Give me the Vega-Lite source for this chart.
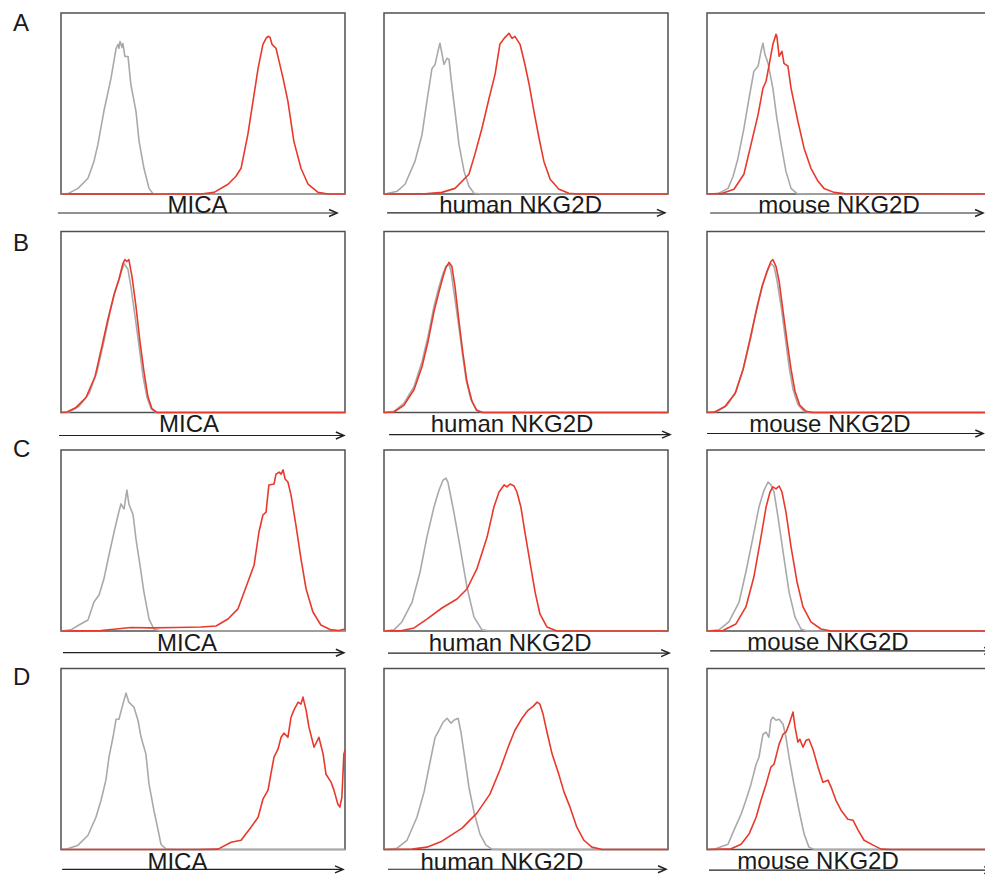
{
"$schema": "https://vega.github.io/schema/vega-lite/v6.json",
"background": "white",
"padding": {"left": 12, "top": 11, "right": 0, "bottom": 0},
"autosize": {"type": "pad"},
"config": {"view": {"stroke": "#505050", "strokeWidth": 1.5}, "font": "Liberation Sans", "axis": {"disable": true}},
"columns": 3,
"spacing": {"row": 37.5, "column": 39},
"bounds": "flush",
"data": {"values": [
{"p":"A1","s":"n","x":0,"y":0},{"p":"A1","s":"n","x":2.5,"y":0.2},{"p":"A1","s":"n","x":6,"y":3.1},{"p":"A1","s":"n","x":9.5,"y":8.7},{"p":"A1","s":"n","x":11.6,"y":18},{"p":"A1","s":"n","x":13,"y":27.4},{"p":"A1","s":"n","x":15.1,"y":45.7},{"p":"A1","s":"n","x":17.6,"y":63.9},{"p":"A1","s":"n","x":19.4,"y":80.5},{"p":"A1","s":"n","x":20.1,"y":82.7},{"p":"A1","s":"n","x":20.4,"y":80.5},{"p":"A1","s":"n","x":20.8,"y":84.3},{"p":"A1","s":"n","x":21.5,"y":81},{"p":"A1","s":"n","x":21.8,"y":83.1},{"p":"A1","s":"n","x":22.5,"y":76},{"p":"A1","s":"n","x":23.6,"y":76},{"p":"A1","s":"n","x":24.6,"y":60.6},{"p":"A1","s":"n","x":26.4,"y":45.7},{"p":"A1","s":"n","x":27.5,"y":29.1},{"p":"A1","s":"n","x":29.2,"y":14.2},{"p":"A1","s":"n","x":31,"y":3.1},{"p":"A1","s":"n","x":32.4,"y":0.2},{"p":"A1","s":"n","x":35.2,"y":0},{"p":"A1","s":"n","x":100,"y":0},
{"p":"A1","s":"r","x":0,"y":0},{"p":"A1","s":"r","x":49.3,"y":0},{"p":"A1","s":"r","x":53.9,"y":0.9},{"p":"A1","s":"r","x":58.8,"y":5.4},{"p":"A1","s":"r","x":61.6,"y":9.8},{"p":"A1","s":"r","x":63.4,"y":14.2},{"p":"A1","s":"r","x":65.8,"y":32.9},{"p":"A1","s":"r","x":67.6,"y":51.2},{"p":"A1","s":"r","x":69.4,"y":69.4},{"p":"A1","s":"r","x":71.1,"y":82.7},{"p":"A1","s":"r","x":72.2,"y":86},{"p":"A1","s":"r","x":72.9,"y":87.1},{"p":"A1","s":"r","x":73.6,"y":86.6},{"p":"A1","s":"r","x":74.3,"y":82.7},{"p":"A1","s":"r","x":75.7,"y":80.5},{"p":"A1","s":"r","x":76.8,"y":73.3},{"p":"A1","s":"r","x":78.2,"y":63.9},{"p":"A1","s":"r","x":79.9,"y":51.2},{"p":"A1","s":"r","x":82,"y":29.1},{"p":"A1","s":"r","x":84.5,"y":14.2},{"p":"A1","s":"r","x":87,"y":5.4},{"p":"A1","s":"r","x":90.5,"y":0.9},{"p":"A1","s":"r","x":94,"y":0},{"p":"A1","s":"r","x":100,"y":0},
{"p":"A2","s":"n","x":0,"y":0},{"p":"A2","s":"n","x":1.1,"y":0.2},{"p":"A2","s":"n","x":4.6,"y":1.5},{"p":"A2","s":"n","x":7.4,"y":5.4},{"p":"A2","s":"n","x":10.9,"y":18},{"p":"A2","s":"n","x":13.4,"y":32.9},{"p":"A2","s":"n","x":15.1,"y":51.2},{"p":"A2","s":"n","x":16.9,"y":69.4},{"p":"A2","s":"n","x":18,"y":71.6},{"p":"A2","s":"n","x":19,"y":78.8},{"p":"A2","s":"n","x":19.7,"y":83.3},{"p":"A2","s":"n","x":20.4,"y":77.7},{"p":"A2","s":"n","x":21.1,"y":71.6},{"p":"A2","s":"n","x":22.2,"y":75},{"p":"A2","s":"n","x":22.9,"y":74.4},{"p":"A2","s":"n","x":23.6,"y":63.9},{"p":"A2","s":"n","x":25,"y":45.7},{"p":"A2","s":"n","x":26.4,"y":27.4},{"p":"A2","s":"n","x":28.2,"y":12.5},{"p":"A2","s":"n","x":29.9,"y":4.3},{"p":"A2","s":"n","x":31.7,"y":0.4},{"p":"A2","s":"n","x":34.5,"y":0},{"p":"A2","s":"n","x":100,"y":0},
{"p":"A2","s":"r","x":0,"y":0},{"p":"A2","s":"r","x":14.4,"y":0.1},{"p":"A2","s":"r","x":20.4,"y":0.9},{"p":"A2","s":"r","x":25,"y":3.1},{"p":"A2","s":"r","x":29.9,"y":10.9},{"p":"A2","s":"r","x":32,"y":21.9},{"p":"A2","s":"r","x":34.5,"y":36.3},{"p":"A2","s":"r","x":37,"y":52.9},{"p":"A2","s":"r","x":39.1,"y":66.1},{"p":"A2","s":"r","x":40.8,"y":82.7},{"p":"A2","s":"r","x":42.3,"y":86},{"p":"A2","s":"r","x":44,"y":88.8},{"p":"A2","s":"r","x":45.1,"y":86},{"p":"A2","s":"r","x":46.1,"y":87.1},{"p":"A2","s":"r","x":47.9,"y":82.7},{"p":"A2","s":"r","x":49.6,"y":71.7},{"p":"A2","s":"r","x":51.1,"y":60.6},{"p":"A2","s":"r","x":52.8,"y":45.7},{"p":"A2","s":"r","x":54.6,"y":30.8},{"p":"A2","s":"r","x":56.3,"y":18},{"p":"A2","s":"r","x":58.5,"y":8.1},{"p":"A2","s":"r","x":61.6,"y":2.6},{"p":"A2","s":"r","x":65.1,"y":0.4},{"p":"A2","s":"r","x":68,"y":0},{"p":"A2","s":"r","x":100,"y":0},
{"p":"A3","s":"n","x":0,"y":0},{"p":"A3","s":"n","x":3.9,"y":0.2},{"p":"A3","s":"n","x":7.4,"y":3.1},{"p":"A3","s":"n","x":9.2,"y":9.8},{"p":"A3","s":"n","x":10.9,"y":19.7},{"p":"A3","s":"n","x":13,"y":36.3},{"p":"A3","s":"n","x":14.8,"y":52.9},{"p":"A3","s":"n","x":16.5,"y":67.8},{"p":"A3","s":"n","x":18,"y":70.6},{"p":"A3","s":"n","x":19,"y":78.8},{"p":"A3","s":"n","x":19.7,"y":83.3},{"p":"A3","s":"n","x":20.4,"y":77.2},{"p":"A3","s":"n","x":21.5,"y":72.2},{"p":"A3","s":"n","x":23.2,"y":58.4},{"p":"A3","s":"n","x":24.6,"y":41.8},{"p":"A3","s":"n","x":26.1,"y":27.4},{"p":"A3","s":"n","x":27.8,"y":12.5},{"p":"A3","s":"n","x":29.6,"y":3.1},{"p":"A3","s":"n","x":31.7,"y":0.2},{"p":"A3","s":"n","x":34.9,"y":0},{"p":"A3","s":"n","x":100,"y":0},
{"p":"A3","s":"r","x":0,"y":0},{"p":"A3","s":"r","x":4.9,"y":0.2},{"p":"A3","s":"r","x":9.5,"y":2.6},{"p":"A3","s":"r","x":13,"y":10.9},{"p":"A3","s":"r","x":15.5,"y":27.4},{"p":"A3","s":"r","x":18,"y":44},{"p":"A3","s":"r","x":19.7,"y":58.4},{"p":"A3","s":"r","x":20.8,"y":62.3},{"p":"A3","s":"r","x":21.8,"y":70.6},{"p":"A3","s":"r","x":23.2,"y":82.7},{"p":"A3","s":"r","x":24.3,"y":88.2},{"p":"A3","s":"r","x":24.6,"y":87.1},{"p":"A3","s":"r","x":25.4,"y":76.1},{"p":"A3","s":"r","x":26.4,"y":78.8},{"p":"A3","s":"r","x":27.1,"y":72.2},{"p":"A3","s":"r","x":28.5,"y":70.6},{"p":"A3","s":"r","x":29.6,"y":58.4},{"p":"A3","s":"r","x":32,"y":40.2},{"p":"A3","s":"r","x":34.2,"y":25.2},{"p":"A3","s":"r","x":36.6,"y":14.2},{"p":"A3","s":"r","x":39.1,"y":7},{"p":"A3","s":"r","x":41.2,"y":3.1},{"p":"A3","s":"r","x":44.7,"y":0.9},{"p":"A3","s":"r","x":48.2,"y":0.2},{"p":"A3","s":"r","x":100,"y":0},
{"p":"B1","s":"n","x":0,"y":0},{"p":"B1","s":"n","x":2.8,"y":0.3},{"p":"B1","s":"n","x":6.3,"y":3.3},{"p":"B1","s":"n","x":9.9,"y":10.5},{"p":"B1","s":"n","x":12.7,"y":22.7},{"p":"B1","s":"n","x":15.1,"y":39.2},{"p":"B1","s":"n","x":17.3,"y":55.8},{"p":"B1","s":"n","x":19,"y":66.9},{"p":"B1","s":"n","x":20.4,"y":73.5},{"p":"B1","s":"n","x":21.5,"y":79},{"p":"B1","s":"n","x":22.2,"y":82.3},{"p":"B1","s":"n","x":22.9,"y":80.7},{"p":"B1","s":"n","x":23.6,"y":79},{"p":"B1","s":"n","x":24.6,"y":69.6},{"p":"B1","s":"n","x":26.1,"y":53},{"p":"B1","s":"n","x":27.5,"y":36.5},{"p":"B1","s":"n","x":28.9,"y":19.9},{"p":"B1","s":"n","x":30.3,"y":8.3},{"p":"B1","s":"n","x":31.7,"y":2.2},{"p":"B1","s":"n","x":33.5,"y":0},{"p":"B1","s":"n","x":100,"y":0},
{"p":"B1","s":"r","x":0,"y":0},{"p":"B1","s":"r","x":2.1,"y":0.3},{"p":"B1","s":"r","x":5.3,"y":2.8},{"p":"B1","s":"r","x":8.8,"y":8.3},{"p":"B1","s":"r","x":12,"y":19.9},{"p":"B1","s":"r","x":14.4,"y":36.5},{"p":"B1","s":"r","x":16.5,"y":51.4},{"p":"B1","s":"r","x":18.7,"y":65.2},{"p":"B1","s":"r","x":20.4,"y":73.5},{"p":"B1","s":"r","x":21.8,"y":82.3},{"p":"B1","s":"r","x":22.5,"y":84.5},{"p":"B1","s":"r","x":23.2,"y":83.4},{"p":"B1","s":"r","x":23.9,"y":84.5},{"p":"B1","s":"r","x":25,"y":75.1},{"p":"B1","s":"r","x":26.4,"y":58.6},{"p":"B1","s":"r","x":27.8,"y":39.2},{"p":"B1","s":"r","x":29.2,"y":22.7},{"p":"B1","s":"r","x":30.6,"y":8.8},{"p":"B1","s":"r","x":32,"y":2.2},{"p":"B1","s":"r","x":33.8,"y":0},{"p":"B1","s":"r","x":100,"y":0},
{"p":"B2","s":"n","x":0,"y":0},{"p":"B2","s":"n","x":3.5,"y":0.6},{"p":"B2","s":"n","x":7,"y":5},{"p":"B2","s":"n","x":10.6,"y":14.4},{"p":"B2","s":"n","x":13.4,"y":28.2},{"p":"B2","s":"n","x":15.5,"y":42},{"p":"B2","s":"n","x":17.6,"y":58.6},{"p":"B2","s":"n","x":19.4,"y":69.6},{"p":"B2","s":"n","x":20.8,"y":76.8},{"p":"B2","s":"n","x":21.8,"y":80.7},{"p":"B2","s":"n","x":22.9,"y":81.8},{"p":"B2","s":"n","x":23.6,"y":77.9},{"p":"B2","s":"n","x":24.6,"y":66.9},{"p":"B2","s":"n","x":26.1,"y":50.3},{"p":"B2","s":"n","x":27.5,"y":33.7},{"p":"B2","s":"n","x":28.9,"y":18.2},{"p":"B2","s":"n","x":30.6,"y":7.2},{"p":"B2","s":"n","x":32.4,"y":1.7},{"p":"B2","s":"n","x":34.5,"y":0},{"p":"B2","s":"n","x":100,"y":0},
{"p":"B2","s":"r","x":0,"y":0},{"p":"B2","s":"r","x":3.5,"y":0.3},{"p":"B2","s":"r","x":7,"y":3.9},{"p":"B2","s":"r","x":10.6,"y":12.7},{"p":"B2","s":"r","x":13.4,"y":25.4},{"p":"B2","s":"r","x":15.5,"y":39.2},{"p":"B2","s":"r","x":17.6,"y":55.8},{"p":"B2","s":"r","x":19.4,"y":66.9},{"p":"B2","s":"r","x":20.8,"y":75.1},{"p":"B2","s":"r","x":21.8,"y":80.1},{"p":"B2","s":"r","x":22.9,"y":82.9},{"p":"B2","s":"r","x":23.9,"y":80.7},{"p":"B2","s":"r","x":25,"y":69.6},{"p":"B2","s":"r","x":26.4,"y":50.3},{"p":"B2","s":"r","x":27.8,"y":32.6},{"p":"B2","s":"r","x":29.2,"y":17.1},{"p":"B2","s":"r","x":31,"y":6.1},{"p":"B2","s":"r","x":32.7,"y":1.1},{"p":"B2","s":"r","x":34.9,"y":0},{"p":"B2","s":"r","x":100,"y":0},
{"p":"B3","s":"n","x":0,"y":0},{"p":"B3","s":"n","x":3.5,"y":0.6},{"p":"B3","s":"n","x":7,"y":3.9},{"p":"B3","s":"n","x":10.2,"y":11.6},{"p":"B3","s":"n","x":13,"y":25.4},{"p":"B3","s":"n","x":15.5,"y":42},{"p":"B3","s":"n","x":17.6,"y":58.6},{"p":"B3","s":"n","x":19.7,"y":71.3},{"p":"B3","s":"n","x":21.5,"y":79},{"p":"B3","s":"n","x":22.5,"y":82.3},{"p":"B3","s":"n","x":23.6,"y":80.7},{"p":"B3","s":"n","x":24.6,"y":73.5},{"p":"B3","s":"n","x":26.1,"y":58.6},{"p":"B3","s":"n","x":27.5,"y":42},{"p":"B3","s":"n","x":28.9,"y":25.4},{"p":"B3","s":"n","x":30.3,"y":12.7},{"p":"B3","s":"n","x":32,"y":4.4},{"p":"B3","s":"n","x":34.2,"y":0.6},{"p":"B3","s":"n","x":36.6,"y":0},{"p":"B3","s":"n","x":100,"y":0},
{"p":"B3","s":"r","x":0,"y":0},{"p":"B3","s":"r","x":2.8,"y":0.3},{"p":"B3","s":"r","x":6.3,"y":3.3},{"p":"B3","s":"r","x":9.9,"y":10.5},{"p":"B3","s":"r","x":12.7,"y":23.8},{"p":"B3","s":"r","x":15.1,"y":40.3},{"p":"B3","s":"r","x":17.3,"y":55.8},{"p":"B3","s":"r","x":19.4,"y":69.6},{"p":"B3","s":"r","x":21.1,"y":77.9},{"p":"B3","s":"r","x":22.5,"y":83.4},{"p":"B3","s":"r","x":23.2,"y":84.5},{"p":"B3","s":"r","x":24.3,"y":80.7},{"p":"B3","s":"r","x":25.4,"y":72.4},{"p":"B3","s":"r","x":26.8,"y":55.8},{"p":"B3","s":"r","x":28.2,"y":39.2},{"p":"B3","s":"r","x":29.6,"y":23.8},{"p":"B3","s":"r","x":31,"y":11.6},{"p":"B3","s":"r","x":32.7,"y":3.9},{"p":"B3","s":"r","x":34.9,"y":0.6},{"p":"B3","s":"r","x":37.3,"y":0},{"p":"B3","s":"r","x":100,"y":0},
{"p":"C1","s":"n","x":0,"y":0},{"p":"C1","s":"n","x":3.5,"y":0.6},{"p":"C1","s":"n","x":6.3,"y":3.3},{"p":"C1","s":"n","x":9.5,"y":6.1},{"p":"C1","s":"n","x":11.6,"y":16},{"p":"C1","s":"n","x":13.4,"y":19.9},{"p":"C1","s":"n","x":15.1,"y":28.7},{"p":"C1","s":"n","x":16.9,"y":42},{"p":"C1","s":"n","x":18.7,"y":54.7},{"p":"C1","s":"n","x":20.1,"y":64.1},{"p":"C1","s":"n","x":21.1,"y":70.2},{"p":"C1","s":"n","x":22.2,"y":67.4},{"p":"C1","s":"n","x":23.2,"y":77.9},{"p":"C1","s":"n","x":23.9,"y":70.2},{"p":"C1","s":"n","x":25.4,"y":64.1},{"p":"C1","s":"n","x":26.4,"y":50.8},{"p":"C1","s":"n","x":27.8,"y":36.5},{"p":"C1","s":"n","x":29.2,"y":21.5},{"p":"C1","s":"n","x":31,"y":6.6},{"p":"C1","s":"n","x":32.7,"y":1.1},{"p":"C1","s":"n","x":35.2,"y":0},{"p":"C1","s":"n","x":100,"y":0},
{"p":"C1","s":"r","x":0,"y":0},{"p":"C1","s":"r","x":14.1,"y":0.3},{"p":"C1","s":"r","x":19.4,"y":1.1},{"p":"C1","s":"r","x":24.6,"y":1.9},{"p":"C1","s":"r","x":31.7,"y":1.7},{"p":"C1","s":"r","x":40.5,"y":1.9},{"p":"C1","s":"r","x":49.3,"y":2.2},{"p":"C1","s":"r","x":54.6,"y":2.8},{"p":"C1","s":"r","x":58.8,"y":6.6},{"p":"C1","s":"r","x":62.3,"y":12.2},{"p":"C1","s":"r","x":65.8,"y":27.1},{"p":"C1","s":"r","x":68,"y":36.5},{"p":"C1","s":"r","x":69.7,"y":54.7},{"p":"C1","s":"r","x":71.1,"y":64.1},{"p":"C1","s":"r","x":72.2,"y":65.7},{"p":"C1","s":"r","x":73.2,"y":80.7},{"p":"C1","s":"r","x":75,"y":81.2},{"p":"C1","s":"r","x":75.7,"y":86.7},{"p":"C1","s":"r","x":76.8,"y":87.8},{"p":"C1","s":"r","x":77.5,"y":86.7},{"p":"C1","s":"r","x":78.2,"y":89},{"p":"C1","s":"r","x":78.9,"y":84},{"p":"C1","s":"r","x":79.9,"y":82.3},{"p":"C1","s":"r","x":81,"y":75.1},{"p":"C1","s":"r","x":82.7,"y":58.6},{"p":"C1","s":"r","x":84.5,"y":39.8},{"p":"C1","s":"r","x":86.3,"y":23.2},{"p":"C1","s":"r","x":88.7,"y":10.5},{"p":"C1","s":"r","x":91.5,"y":3.3},{"p":"C1","s":"r","x":95.1,"y":0.6},{"p":"C1","s":"r","x":97.9,"y":0.3},{"p":"C1","s":"r","x":100,"y":1.1},
{"p":"C2","s":"n","x":0,"y":0},{"p":"C2","s":"n","x":3.5,"y":0.6},{"p":"C2","s":"n","x":6.3,"y":5},{"p":"C2","s":"n","x":9.9,"y":16},{"p":"C2","s":"n","x":12.7,"y":32.6},{"p":"C2","s":"n","x":15.1,"y":51.9},{"p":"C2","s":"n","x":17.6,"y":68.5},{"p":"C2","s":"n","x":19.4,"y":77.9},{"p":"C2","s":"n","x":20.8,"y":83.4},{"p":"C2","s":"n","x":21.8,"y":84.5},{"p":"C2","s":"n","x":22.5,"y":82.3},{"p":"C2","s":"n","x":23.2,"y":76.8},{"p":"C2","s":"n","x":24.6,"y":65.7},{"p":"C2","s":"n","x":26.8,"y":46.4},{"p":"C2","s":"n","x":29.2,"y":24.3},{"p":"C2","s":"n","x":31.7,"y":7.7},{"p":"C2","s":"n","x":34.5,"y":0.6},{"p":"C2","s":"n","x":37.3,"y":0},{"p":"C2","s":"n","x":100,"y":0},
{"p":"C2","s":"r","x":0,"y":0},{"p":"C2","s":"r","x":6.3,"y":0.3},{"p":"C2","s":"r","x":10.6,"y":1.7},{"p":"C2","s":"r","x":15.1,"y":6.6},{"p":"C2","s":"r","x":20.4,"y":12.7},{"p":"C2","s":"r","x":25.7,"y":17.7},{"p":"C2","s":"r","x":29.2,"y":23.2},{"p":"C2","s":"r","x":32.7,"y":34.3},{"p":"C2","s":"r","x":36.3,"y":51.9},{"p":"C2","s":"r","x":38.7,"y":68.5},{"p":"C2","s":"r","x":40.5,"y":76.8},{"p":"C2","s":"r","x":42.3,"y":80.7},{"p":"C2","s":"r","x":43.3,"y":79.6},{"p":"C2","s":"r","x":44.4,"y":81.2},{"p":"C2","s":"r","x":45.8,"y":80.1},{"p":"C2","s":"r","x":46.8,"y":76.8},{"p":"C2","s":"r","x":48.2,"y":68.5},{"p":"C2","s":"r","x":49.6,"y":54.7},{"p":"C2","s":"r","x":51.4,"y":38.1},{"p":"C2","s":"r","x":53.2,"y":21.5},{"p":"C2","s":"r","x":54.9,"y":9.4},{"p":"C2","s":"r","x":57.4,"y":2.2},{"p":"C2","s":"r","x":60.9,"y":0},{"p":"C2","s":"r","x":100,"y":0},
{"p":"C3","s":"n","x":0,"y":0},{"p":"C3","s":"n","x":4.2,"y":0.6},{"p":"C3","s":"n","x":7.7,"y":5},{"p":"C3","s":"n","x":11.3,"y":16},{"p":"C3","s":"n","x":13.7,"y":32.6},{"p":"C3","s":"n","x":16.2,"y":51.9},{"p":"C3","s":"n","x":18.3,"y":68.5},{"p":"C3","s":"n","x":20.1,"y":77.9},{"p":"C3","s":"n","x":21.5,"y":82.3},{"p":"C3","s":"n","x":22.5,"y":80.7},{"p":"C3","s":"n","x":23.6,"y":76.8},{"p":"C3","s":"n","x":25,"y":63},{"p":"C3","s":"n","x":26.8,"y":43.6},{"p":"C3","s":"n","x":28.9,"y":21.5},{"p":"C3","s":"n","x":31,"y":7.7},{"p":"C3","s":"n","x":33.1,"y":1.1},{"p":"C3","s":"n","x":35.2,"y":0},{"p":"C3","s":"n","x":100,"y":0},
{"p":"C3","s":"r","x":0,"y":0},{"p":"C3","s":"r","x":5.6,"y":0.3},{"p":"C3","s":"r","x":10.2,"y":3.9},{"p":"C3","s":"r","x":13.7,"y":13.3},{"p":"C3","s":"r","x":16.5,"y":29.8},{"p":"C3","s":"r","x":19,"y":51.9},{"p":"C3","s":"r","x":20.8,"y":68.5},{"p":"C3","s":"r","x":22.2,"y":76.8},{"p":"C3","s":"r","x":23.2,"y":79.6},{"p":"C3","s":"r","x":24.3,"y":78.5},{"p":"C3","s":"r","x":25.4,"y":80.1},{"p":"C3","s":"r","x":26.4,"y":76.8},{"p":"C3","s":"r","x":27.8,"y":65.7},{"p":"C3","s":"r","x":29.6,"y":46.4},{"p":"C3","s":"r","x":31.7,"y":27.1},{"p":"C3","s":"r","x":33.8,"y":13.3},{"p":"C3","s":"r","x":36.6,"y":5},{"p":"C3","s":"r","x":40.1,"y":1.1},{"p":"C3","s":"r","x":43.7,"y":0},{"p":"C3","s":"r","x":100,"y":0},
{"p":"D1","s":"n","x":0,"y":0},{"p":"D1","s":"n","x":1.8,"y":0.2},{"p":"D1","s":"n","x":6,"y":2.4},{"p":"D1","s":"n","x":9.5,"y":7.9},{"p":"D1","s":"n","x":12.3,"y":17.8},{"p":"D1","s":"n","x":14.1,"y":27.2},{"p":"D1","s":"n","x":15.8,"y":38.3},{"p":"D1","s":"n","x":16.9,"y":51},{"p":"D1","s":"n","x":18.3,"y":62},{"p":"D1","s":"n","x":19.4,"y":72},{"p":"D1","s":"n","x":20.4,"y":72},{"p":"D1","s":"n","x":21.8,"y":80.3},{"p":"D1","s":"n","x":22.9,"y":86.4},{"p":"D1","s":"n","x":23.9,"y":81.4},{"p":"D1","s":"n","x":25.7,"y":78.6},{"p":"D1","s":"n","x":27.1,"y":71.4},{"p":"D1","s":"n","x":28.2,"y":62},{"p":"D1","s":"n","x":29.9,"y":52.7},{"p":"D1","s":"n","x":31,"y":36.1},{"p":"D1","s":"n","x":32.7,"y":21.7},{"p":"D1","s":"n","x":34.2,"y":10.7},{"p":"D1","s":"n","x":35.2,"y":2.9},{"p":"D1","s":"n","x":37,"y":0.2},{"p":"D1","s":"n","x":40.5,"y":0},{"p":"D1","s":"n","x":100,"y":0},
{"p":"D1","s":"r","x":0,"y":0},{"p":"D1","s":"r","x":48.2,"y":0},{"p":"D1","s":"r","x":55.3,"y":0.2},{"p":"D1","s":"r","x":59.9,"y":4},{"p":"D1","s":"r","x":63.4,"y":5.1},{"p":"D1","s":"r","x":66.9,"y":12.3},{"p":"D1","s":"r","x":69.4,"y":17.8},{"p":"D1","s":"r","x":71.1,"y":27.8},{"p":"D1","s":"r","x":72.9,"y":32.8},{"p":"D1","s":"r","x":73.9,"y":41.6},{"p":"D1","s":"r","x":75,"y":51},{"p":"D1","s":"r","x":76.4,"y":55.4},{"p":"D1","s":"r","x":77.5,"y":62},{"p":"D1","s":"r","x":78.5,"y":64.3},{"p":"D1","s":"r","x":79.9,"y":62},{"p":"D1","s":"r","x":81,"y":73.1},{"p":"D1","s":"r","x":82,"y":77},{"p":"D1","s":"r","x":83.5,"y":81.4},{"p":"D1","s":"r","x":84.5,"y":80.3},{"p":"D1","s":"r","x":85.2,"y":84.2},{"p":"D1","s":"r","x":86.3,"y":77},{"p":"D1","s":"r","x":87.3,"y":67.6},{"p":"D1","s":"r","x":89.1,"y":56.5},{"p":"D1","s":"r","x":90.8,"y":62},{"p":"D1","s":"r","x":92.3,"y":52.7},{"p":"D1","s":"r","x":93.3,"y":41.6},{"p":"D1","s":"r","x":95.1,"y":37.2},{"p":"D1","s":"r","x":96.1,"y":32.8},{"p":"D1","s":"r","x":97.5,"y":25},{"p":"D1","s":"r","x":98.2,"y":23.4},{"p":"D1","s":"r","x":98.9,"y":28.9},{"p":"D1","s":"r","x":99.6,"y":52.7},{"p":"D1","s":"r","x":100,"y":54.9},
{"p":"D2","s":"n","x":0,"y":0},{"p":"D2","s":"n","x":4.6,"y":0.7},{"p":"D2","s":"n","x":8.1,"y":5.1},{"p":"D2","s":"n","x":11.6,"y":17.8},{"p":"D2","s":"n","x":14.1,"y":31.7},{"p":"D2","s":"n","x":16.2,"y":48.2},{"p":"D2","s":"n","x":18,"y":62},{"p":"D2","s":"n","x":19.4,"y":65.9},{"p":"D2","s":"n","x":20.8,"y":70.3},{"p":"D2","s":"n","x":22.2,"y":72.5},{"p":"D2","s":"n","x":23.6,"y":69.8},{"p":"D2","s":"n","x":24.6,"y":71.4},{"p":"D2","s":"n","x":26.1,"y":72.5},{"p":"D2","s":"n","x":27.1,"y":64.8},{"p":"D2","s":"n","x":28.5,"y":49.9},{"p":"D2","s":"n","x":29.9,"y":34.4},{"p":"D2","s":"n","x":31.7,"y":20.6},{"p":"D2","s":"n","x":33.8,"y":8.5},{"p":"D2","s":"n","x":35.9,"y":2.4},{"p":"D2","s":"n","x":38,"y":0.2},{"p":"D2","s":"n","x":41.5,"y":0},{"p":"D2","s":"n","x":100,"y":0},
{"p":"D2","s":"r","x":0,"y":0},{"p":"D2","s":"r","x":9.9,"y":0.2},{"p":"D2","s":"r","x":15.1,"y":1.3},{"p":"D2","s":"r","x":20.4,"y":4.6},{"p":"D2","s":"r","x":27.5,"y":11.8},{"p":"D2","s":"r","x":32.7,"y":20.1},{"p":"D2","s":"r","x":37.3,"y":30.6},{"p":"D2","s":"r","x":40.8,"y":43.9},{"p":"D2","s":"r","x":43.7,"y":56.5},{"p":"D2","s":"r","x":46.1,"y":65.9},{"p":"D2","s":"r","x":48.6,"y":72.5},{"p":"D2","s":"r","x":50.7,"y":76.9},{"p":"D2","s":"r","x":52.5,"y":79.1},{"p":"D2","s":"r","x":53.9,"y":81.4},{"p":"D2","s":"r","x":54.9,"y":80.3},{"p":"D2","s":"r","x":56,"y":74.8},{"p":"D2","s":"r","x":57.4,"y":64.8},{"p":"D2","s":"r","x":59.2,"y":52.7},{"p":"D2","s":"r","x":61.3,"y":42.8},{"p":"D2","s":"r","x":63.4,"y":31.7},{"p":"D2","s":"r","x":65.5,"y":23.4},{"p":"D2","s":"r","x":67.9,"y":12.3},{"p":"D2","s":"r","x":70.4,"y":5.1},{"p":"D2","s":"r","x":73.2,"y":1.3},{"p":"D2","s":"r","x":76.8,"y":0},{"p":"D2","s":"r","x":100,"y":0},
{"p":"D3","s":"n","x":0,"y":0},{"p":"D3","s":"n","x":2.5,"y":0.2},{"p":"D3","s":"n","x":7.4,"y":2.9},{"p":"D3","s":"n","x":9.5,"y":10.7},{"p":"D3","s":"n","x":12,"y":19.5},{"p":"D3","s":"n","x":13.7,"y":27.2},{"p":"D3","s":"n","x":15.5,"y":36.1},{"p":"D3","s":"n","x":17.3,"y":47.1},{"p":"D3","s":"n","x":18.3,"y":51},{"p":"D3","s":"n","x":19.7,"y":63.7},{"p":"D3","s":"n","x":20.8,"y":64.8},{"p":"D3","s":"n","x":21.8,"y":62},{"p":"D3","s":"n","x":22.5,"y":71.4},{"p":"D3","s":"n","x":23.2,"y":73.1},{"p":"D3","s":"n","x":24.3,"y":71.4},{"p":"D3","s":"n","x":25.4,"y":72},{"p":"D3","s":"n","x":26.8,"y":69.2},{"p":"D3","s":"n","x":27.8,"y":62},{"p":"D3","s":"n","x":28.9,"y":51},{"p":"D3","s":"n","x":30.6,"y":36.1},{"p":"D3","s":"n","x":32.4,"y":21.7},{"p":"D3","s":"n","x":34.2,"y":8.5},{"p":"D3","s":"n","x":35.9,"y":1.3},{"p":"D3","s":"n","x":37.7,"y":0},{"p":"D3","s":"n","x":100,"y":0},
{"p":"D3","s":"r","x":0,"y":0},{"p":"D3","s":"r","x":4.9,"y":0.2},{"p":"D3","s":"r","x":8.5,"y":0.4},{"p":"D3","s":"r","x":12,"y":2.9},{"p":"D3","s":"r","x":14.8,"y":8.5},{"p":"D3","s":"r","x":17.3,"y":17.8},{"p":"D3","s":"r","x":19,"y":27.2},{"p":"D3","s":"r","x":20.8,"y":36.1},{"p":"D3","s":"r","x":22.5,"y":45.5},{"p":"D3","s":"r","x":23.6,"y":47.1},{"p":"D3","s":"r","x":25.4,"y":58.2},{"p":"D3","s":"r","x":26.8,"y":63.7},{"p":"D3","s":"r","x":27.8,"y":64.8},{"p":"D3","s":"r","x":28.9,"y":69.2},{"p":"D3","s":"r","x":30.3,"y":75.9},{"p":"D3","s":"r","x":31,"y":67.6},{"p":"D3","s":"r","x":32,"y":59.3},{"p":"D3","s":"r","x":32.7,"y":60.9},{"p":"D3","s":"r","x":33.8,"y":56.5},{"p":"D3","s":"r","x":34.9,"y":60.4},{"p":"D3","s":"r","x":35.9,"y":60.9},{"p":"D3","s":"r","x":37.3,"y":55.4},{"p":"D3","s":"r","x":39.1,"y":45.5},{"p":"D3","s":"r","x":40.8,"y":37.2},{"p":"D3","s":"r","x":42.6,"y":38.3},{"p":"D3","s":"r","x":43.7,"y":34.5},{"p":"D3","s":"r","x":45.4,"y":27.2},{"p":"D3","s":"r","x":47.2,"y":21.7},{"p":"D3","s":"r","x":49.6,"y":16.7},{"p":"D3","s":"r","x":51.4,"y":16.2},{"p":"D3","s":"r","x":53.2,"y":10.7},{"p":"D3","s":"r","x":55.3,"y":5.1},{"p":"D3","s":"r","x":58.5,"y":2.4},{"p":"D3","s":"r","x":61.3,"y":0.2},{"p":"D3","s":"r","x":64.8,"y":0},{"p":"D3","s":"r","x":100,"y":0}
]},
"concat": [
 {"width": 284, "height": 181, "layer": [
  {"transform": [{"filter": "datum.p === 'A1'"}], "mark": {"type": "line", "strokeWidth": 1.6, "strokeJoin": "round"}, "encoding": {"x": {"field": "x", "type": "quantitative", "scale": {"domain": [0, 100], "nice": false, "zero": false}, "axis": null}, "y": {"field": "y", "type": "quantitative", "scale": {"domain": [0, 100], "nice": false}, "axis": null}, "color": {"field": "s", "type": "nominal", "scale": {"domain": ["n", "r"], "range": ["#a9a9a9", "#e8392c"]}, "legend": null}}},
  {"data": {"values": [{}]}, "mark": {"type": "rule", "color": "#222222", "strokeWidth": 1.2}, "encoding": {"x": {"datum": -1.1}, "x2": {"datum": 97.2}, "y": {"datum": -10.5}}},
  {"data": {"values": [{}]}, "mark": {"type": "point", "shape": "M-2,-0.875L0,0L-2,0.875", "size": 64, "filled": false, "stroke": "#222222", "strokeWidth": 1.5, "opacity": 1}, "encoding": {"x": {"datum": 97.2}, "y": {"datum": -10.5}}},
  {"data": {"values": [{}]}, "mark": {"type": "text", "text": "MICA", "fontSize": 24, "align": "center", "baseline": "alphabetic", "color": "#1a1a1a"}, "encoding": {"x": {"datum": 48.1}, "y": {"datum": -10.7}}},
  {"data": {"values": [{}]}, "mark": {"type": "text", "text": "A", "fontSize": 24, "align": "left", "baseline": "alphabetic", "color": "#1a1a1a"}, "encoding": {"x": {"datum": -16.9}, "y": {"datum": 89.9}}}
 ]},
 {"width": 284, "height": 181, "layer": [
  {"transform": [{"filter": "datum.p === 'A2'"}], "mark": {"type": "line", "strokeWidth": 1.6, "strokeJoin": "round"}, "encoding": {"x": {"field": "x", "type": "quantitative", "scale": {"domain": [0, 100], "nice": false, "zero": false}, "axis": null}, "y": {"field": "y", "type": "quantitative", "scale": {"domain": [0, 100], "nice": false}, "axis": null}, "color": {"field": "s", "type": "nominal", "scale": {"domain": ["n", "r"], "range": ["#a9a9a9", "#e8392c"]}, "legend": null}}},
  {"data": {"values": [{}]}, "mark": {"type": "rule", "color": "#222222", "strokeWidth": 1.2}, "encoding": {"x": {"datum": 1.1}, "x2": {"datum": 98.9}, "y": {"datum": -10.4}}},
  {"data": {"values": [{}]}, "mark": {"type": "point", "shape": "M-2,-0.875L0,0L-2,0.875", "size": 64, "filled": false, "stroke": "#222222", "strokeWidth": 1.5, "opacity": 1}, "encoding": {"x": {"datum": 98.9}, "y": {"datum": -10.4}}},
  {"data": {"values": [{}]}, "mark": {"type": "text", "text": "human NKG2D", "fontSize": 24, "align": "center", "baseline": "alphabetic", "color": "#1a1a1a"}, "encoding": {"x": {"datum": 48.1}, "y": {"datum": -10.7}}}
 ]},
 {"width": 284, "height": 181, "layer": [
  {"transform": [{"filter": "datum.p === 'A3'"}], "mark": {"type": "line", "strokeWidth": 1.6, "strokeJoin": "round"}, "encoding": {"x": {"field": "x", "type": "quantitative", "scale": {"domain": [0, 100], "nice": false, "zero": false}, "axis": null}, "y": {"field": "y", "type": "quantitative", "scale": {"domain": [0, 100], "nice": false}, "axis": null}, "color": {"field": "s", "type": "nominal", "scale": {"domain": ["n", "r"], "range": ["#a9a9a9", "#e8392c"]}, "legend": null}}},
  {"data": {"values": [{}]}, "mark": {"type": "rule", "color": "#222222", "strokeWidth": 1.2}, "encoding": {"x": {"datum": 1.1}, "x2": {"datum": 97.2}, "y": {"datum": -10.5}}},
  {"data": {"values": [{}]}, "mark": {"type": "point", "shape": "M-2,-0.875L0,0L-2,0.875", "size": 64, "filled": false, "stroke": "#222222", "strokeWidth": 1.5, "opacity": 1}, "encoding": {"x": {"datum": 97.2}, "y": {"datum": -10.5}}},
  {"data": {"values": [{}]}, "mark": {"type": "text", "text": "mouse NKG2D", "fontSize": 24, "align": "center", "baseline": "alphabetic", "color": "#1a1a1a"}, "encoding": {"x": {"datum": 46.5}, "y": {"datum": -10.5}}}
 ]},
 {"width": 284, "height": 181, "layer": [
  {"transform": [{"filter": "datum.p === 'B1'"}], "mark": {"type": "line", "strokeWidth": 1.6, "strokeJoin": "round"}, "encoding": {"x": {"field": "x", "type": "quantitative", "scale": {"domain": [0, 100], "nice": false, "zero": false}, "axis": null}, "y": {"field": "y", "type": "quantitative", "scale": {"domain": [0, 100], "nice": false}, "axis": null}, "color": {"field": "s", "type": "nominal", "scale": {"domain": ["n", "r"], "range": ["#a9a9a9", "#e8392c"]}, "legend": null}}},
  {"data": {"values": [{}]}, "mark": {"type": "rule", "color": "#222222", "strokeWidth": 1.2}, "encoding": {"x": {"datum": -0.7}, "x2": {"datum": 99.6}, "y": {"datum": -12.7}}},
  {"data": {"values": [{}]}, "mark": {"type": "point", "shape": "M-2,-0.875L0,0L-2,0.875", "size": 64, "filled": false, "stroke": "#222222", "strokeWidth": 1.5, "opacity": 1}, "encoding": {"x": {"datum": 99.6}, "y": {"datum": -12.7}}},
  {"data": {"values": [{}]}, "mark": {"type": "text", "text": "MICA", "fontSize": 24, "align": "center", "baseline": "alphabetic", "color": "#1a1a1a"}, "encoding": {"x": {"datum": 45.1}, "y": {"datum": -10.5}}},
  {"data": {"values": [{}]}, "mark": {"type": "text", "text": "B", "fontSize": 24, "align": "left", "baseline": "alphabetic", "color": "#1a1a1a"}, "encoding": {"x": {"datum": -16.9}, "y": {"datum": 89.5}}}
 ]},
 {"width": 284, "height": 181, "layer": [
  {"transform": [{"filter": "datum.p === 'B2'"}], "mark": {"type": "line", "strokeWidth": 1.6, "strokeJoin": "round"}, "encoding": {"x": {"field": "x", "type": "quantitative", "scale": {"domain": [0, 100], "nice": false, "zero": false}, "axis": null}, "y": {"field": "y", "type": "quantitative", "scale": {"domain": [0, 100], "nice": false}, "axis": null}, "color": {"field": "s", "type": "nominal", "scale": {"domain": ["n", "r"], "range": ["#a9a9a9", "#e8392c"]}, "legend": null}}},
  {"data": {"values": [{}]}, "mark": {"type": "rule", "color": "#222222", "strokeWidth": 1.2}, "encoding": {"x": {"datum": 1.8}, "x2": {"datum": 100.7}, "y": {"datum": -12.2}}},
  {"data": {"values": [{}]}, "mark": {"type": "point", "shape": "M-2,-0.875L0,0L-2,0.875", "size": 64, "filled": false, "stroke": "#222222", "strokeWidth": 1.5, "opacity": 1}, "encoding": {"x": {"datum": 100.7}, "y": {"datum": -12.2}}},
  {"data": {"values": [{}]}, "mark": {"type": "text", "text": "human NKG2D", "fontSize": 24, "align": "center", "baseline": "alphabetic", "color": "#1a1a1a"}, "encoding": {"x": {"datum": 45.1}, "y": {"datum": -10.5}}}
 ]},
 {"width": 284, "height": 181, "layer": [
  {"transform": [{"filter": "datum.p === 'B3'"}], "mark": {"type": "line", "strokeWidth": 1.6, "strokeJoin": "round"}, "encoding": {"x": {"field": "x", "type": "quantitative", "scale": {"domain": [0, 100], "nice": false, "zero": false}, "axis": null}, "y": {"field": "y", "type": "quantitative", "scale": {"domain": [0, 100], "nice": false}, "axis": null}, "color": {"field": "s", "type": "nominal", "scale": {"domain": ["n", "r"], "range": ["#a9a9a9", "#e8392c"]}, "legend": null}}},
  {"data": {"values": [{}]}, "mark": {"type": "rule", "color": "#222222", "strokeWidth": 1.2}, "encoding": {"x": {"datum": 0}, "x2": {"datum": 97.3}, "y": {"datum": -11.6}}},
  {"data": {"values": [{}]}, "mark": {"type": "point", "shape": "M-2,-0.875L0,0L-2,0.875", "size": 64, "filled": false, "stroke": "#222222", "strokeWidth": 1.5, "opacity": 1}, "encoding": {"x": {"datum": 97.3}, "y": {"datum": -11.6}}},
  {"data": {"values": [{}]}, "mark": {"type": "text", "text": "mouse NKG2D", "fontSize": 24, "align": "center", "baseline": "alphabetic", "color": "#1a1a1a"}, "encoding": {"x": {"datum": 43.3}, "y": {"datum": -10.5}}}
 ]},
 {"width": 284, "height": 181, "layer": [
  {"transform": [{"filter": "datum.p === 'C1'"}], "mark": {"type": "line", "strokeWidth": 1.6, "strokeJoin": "round"}, "encoding": {"x": {"field": "x", "type": "quantitative", "scale": {"domain": [0, 100], "nice": false, "zero": false}, "axis": null}, "y": {"field": "y", "type": "quantitative", "scale": {"domain": [0, 100], "nice": false}, "axis": null}, "color": {"field": "s", "type": "nominal", "scale": {"domain": ["n", "r"], "range": ["#a9a9a9", "#e8392c"]}, "legend": null}}},
  {"data": {"values": [{}]}, "mark": {"type": "rule", "color": "#222222", "strokeWidth": 1.2}, "encoding": {"x": {"datum": 0.7}, "x2": {"datum": 99.6}, "y": {"datum": -12}}},
  {"data": {"values": [{}]}, "mark": {"type": "point", "shape": "M-2,-0.875L0,0L-2,0.875", "size": 64, "filled": false, "stroke": "#222222", "strokeWidth": 1.5, "opacity": 1}, "encoding": {"x": {"datum": 99.6}, "y": {"datum": -12}}},
  {"data": {"values": [{}]}, "mark": {"type": "text", "text": "MICA", "fontSize": 24, "align": "center", "baseline": "alphabetic", "color": "#1a1a1a"}, "encoding": {"x": {"datum": 44.4}, "y": {"datum": -11}}},
  {"data": {"values": [{}]}, "mark": {"type": "text", "text": "C", "fontSize": 24, "align": "left", "baseline": "alphabetic", "color": "#1a1a1a"}, "encoding": {"x": {"datum": -16.9}, "y": {"datum": 96.3}}}
 ]},
 {"width": 284, "height": 181, "layer": [
  {"transform": [{"filter": "datum.p === 'C2'"}], "mark": {"type": "line", "strokeWidth": 1.6, "strokeJoin": "round"}, "encoding": {"x": {"field": "x", "type": "quantitative", "scale": {"domain": [0, 100], "nice": false, "zero": false}, "axis": null}, "y": {"field": "y", "type": "quantitative", "scale": {"domain": [0, 100], "nice": false}, "axis": null}, "color": {"field": "s", "type": "nominal", "scale": {"domain": ["n", "r"], "range": ["#a9a9a9", "#e8392c"]}, "legend": null}}},
  {"data": {"values": [{}]}, "mark": {"type": "rule", "color": "#222222", "strokeWidth": 1.2}, "encoding": {"x": {"datum": 1.4}, "x2": {"datum": 100.4}, "y": {"datum": -12.2}}},
  {"data": {"values": [{}]}, "mark": {"type": "point", "shape": "M-2,-0.875L0,0L-2,0.875", "size": 64, "filled": false, "stroke": "#222222", "strokeWidth": 1.5, "opacity": 1}, "encoding": {"x": {"datum": 100.4}, "y": {"datum": -12.2}}},
  {"data": {"values": [{}]}, "mark": {"type": "text", "text": "human NKG2D", "fontSize": 24, "align": "center", "baseline": "alphabetic", "color": "#1a1a1a"}, "encoding": {"x": {"datum": 44.4}, "y": {"datum": -11}}}
 ]},
 {"width": 284, "height": 181, "layer": [
  {"transform": [{"filter": "datum.p === 'C3'"}], "mark": {"type": "line", "strokeWidth": 1.6, "strokeJoin": "round"}, "encoding": {"x": {"field": "x", "type": "quantitative", "scale": {"domain": [0, 100], "nice": false, "zero": false}, "axis": null}, "y": {"field": "y", "type": "quantitative", "scale": {"domain": [0, 100], "nice": false}, "axis": null}, "color": {"field": "s", "type": "nominal", "scale": {"domain": ["n", "r"], "range": ["#a9a9a9", "#e8392c"]}, "legend": null}}},
  {"data": {"values": [{}]}, "mark": {"type": "rule", "color": "#222222", "strokeWidth": 1.2}, "encoding": {"x": {"datum": 1.1}, "x2": {"datum": 100.4}, "y": {"datum": -11}}},
  {"data": {"values": [{}]}, "mark": {"type": "point", "shape": "M-2,-0.875L0,0L-2,0.875", "size": 64, "filled": false, "stroke": "#222222", "strokeWidth": 1.5, "opacity": 1}, "encoding": {"x": {"datum": 100.4}, "y": {"datum": -11}}},
  {"data": {"values": [{}]}, "mark": {"type": "text", "text": "mouse NKG2D", "fontSize": 24, "align": "center", "baseline": "alphabetic", "color": "#1a1a1a"}, "encoding": {"x": {"datum": 42.6}, "y": {"datum": -10.5}}}
 ]},
 {"width": 284, "height": 181, "layer": [
  {"transform": [{"filter": "datum.p === 'D1'"}], "mark": {"type": "line", "strokeWidth": 1.6, "strokeJoin": "round"}, "encoding": {"x": {"field": "x", "type": "quantitative", "scale": {"domain": [0, 100], "nice": false, "zero": false}, "axis": null}, "y": {"field": "y", "type": "quantitative", "scale": {"domain": [0, 100], "nice": false}, "axis": null}, "color": {"field": "s", "type": "nominal", "scale": {"domain": ["n", "r"], "range": ["#a9a9a9", "#e8392c"]}, "legend": null}}},
  {"data": {"values": [{}]}, "mark": {"type": "rule", "color": "#222222", "strokeWidth": 1.2}, "encoding": {"x": {"datum": 0.4}, "x2": {"datum": 99.3}, "y": {"datum": -11}}},
  {"data": {"values": [{}]}, "mark": {"type": "point", "shape": "M-2,-0.875L0,0L-2,0.875", "size": 64, "filled": false, "stroke": "#222222", "strokeWidth": 1.5, "opacity": 1}, "encoding": {"x": {"datum": 99.3}, "y": {"datum": -11}}},
  {"data": {"values": [{}]}, "mark": {"type": "text", "text": "MICA", "fontSize": 24, "align": "center", "baseline": "alphabetic", "color": "#1a1a1a"}, "encoding": {"x": {"datum": 41}, "y": {"datum": -11.4}}},
  {"data": {"values": [{}]}, "mark": {"type": "text", "text": "D", "fontSize": 24, "align": "left", "baseline": "alphabetic", "color": "#1a1a1a"}, "encoding": {"x": {"datum": -16.9}, "y": {"datum": 90.8}}}
 ]},
 {"width": 284, "height": 181, "layer": [
  {"transform": [{"filter": "datum.p === 'D2'"}], "mark": {"type": "line", "strokeWidth": 1.6, "strokeJoin": "round"}, "encoding": {"x": {"field": "x", "type": "quantitative", "scale": {"domain": [0, 100], "nice": false, "zero": false}, "axis": null}, "y": {"field": "y", "type": "quantitative", "scale": {"domain": [0, 100], "nice": false}, "axis": null}, "color": {"field": "s", "type": "nominal", "scale": {"domain": ["n", "r"], "range": ["#a9a9a9", "#e8392c"]}, "legend": null}}},
  {"data": {"values": [{}]}, "mark": {"type": "rule", "color": "#222222", "strokeWidth": 1.2}, "encoding": {"x": {"datum": 1.4}, "x2": {"datum": 99.3}, "y": {"datum": -10.9}}},
  {"data": {"values": [{}]}, "mark": {"type": "point", "shape": "M-2,-0.875L0,0L-2,0.875", "size": 64, "filled": false, "stroke": "#222222", "strokeWidth": 1.5, "opacity": 1}, "encoding": {"x": {"datum": 99.3}, "y": {"datum": -10.9}}},
  {"data": {"values": [{}]}, "mark": {"type": "text", "text": "human NKG2D", "fontSize": 24, "align": "center", "baseline": "alphabetic", "color": "#1a1a1a"}, "encoding": {"x": {"datum": 41.5}, "y": {"datum": -11.4}}}
 ]},
 {"width": 284, "height": 181, "layer": [
  {"transform": [{"filter": "datum.p === 'D3'"}], "mark": {"type": "line", "strokeWidth": 1.6, "strokeJoin": "round"}, "encoding": {"x": {"field": "x", "type": "quantitative", "scale": {"domain": [0, 100], "nice": false, "zero": false}, "axis": null}, "y": {"field": "y", "type": "quantitative", "scale": {"domain": [0, 100], "nice": false}, "axis": null}, "color": {"field": "s", "type": "nominal", "scale": {"domain": ["n", "r"], "range": ["#a9a9a9", "#e8392c"]}, "legend": null}}},
  {"data": {"values": [{}]}, "mark": {"type": "rule", "color": "#222222", "strokeWidth": 1.2}, "encoding": {"x": {"datum": 0.7}, "x2": {"datum": 100.4}, "y": {"datum": -11.4}}},
  {"data": {"values": [{}]}, "mark": {"type": "point", "shape": "M-2,-0.875L0,0L-2,0.875", "size": 64, "filled": false, "stroke": "#222222", "strokeWidth": 1.5, "opacity": 1}, "encoding": {"x": {"datum": 100.4}, "y": {"datum": -11.4}}},
  {"data": {"values": [{}]}, "mark": {"type": "text", "text": "mouse NKG2D", "fontSize": 24, "align": "center", "baseline": "alphabetic", "color": "#1a1a1a"}, "encoding": {"x": {"datum": 39.1}, "y": {"datum": -10.9}}}
 ]}
]
}
